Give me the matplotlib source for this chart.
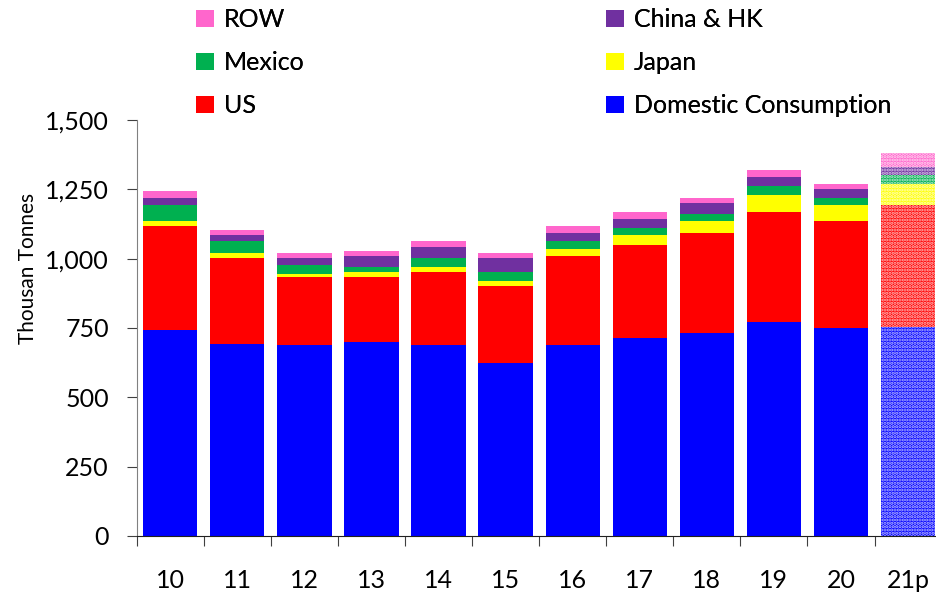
import numpy as np
import matplotlib
matplotlib.use("Agg")
import matplotlib.pyplot as plt
from matplotlib.patches import Patch

plt.rcParams['font.family'] = ['Lato', 'DejaVu Sans']
plt.rcParams['hatch.linewidth'] = 1.6

years = ['10', '11', '12', '13', '14', '15', '16', '17', '18', '19', '20', '21p']
domestic = [743, 692, 690, 700, 690, 625, 690, 714, 732, 772, 750, 755]
us = [375, 312, 245, 235, 262, 278, 320, 336, 362, 397, 387, 440]
japan = [18, 15, 10, 17, 17, 15, 25, 35, 42, 60, 58, 75]
mexico = [59, 44, 31, 17, 33, 34, 27, 27, 26, 33, 25, 33]
china = [24, 22, 27, 41, 40, 50, 31, 32, 40, 34, 32, 29]
row = [26, 17, 17, 18, 21, 17, 25, 25, 17, 25, 18, 50]

series = [('Domestic Consumption', domestic, '#0000FF'),
          ('US', us, '#FF0000'),
          ('Japan', japan, '#FFFF00'),
          ('Mexico', mexico, '#00B050'),
          ('China & HK', china, '#7030A0'),
          ('ROW', row, '#FF66CC')]

fig = plt.figure(figsize=(9.36, 5.92), dpi=100)
ax = fig.add_axes([0.146, 0.0946, 0.86, 0.7027])

x = np.arange(len(years))
bottom = np.zeros(len(years))
for name, vals, col in series:
    vals = np.array(vals, dtype=float)
    ax.bar(x[:-1], vals[:-1], width=0.81, bottom=bottom[:-1], color=col,
           edgecolor='none', linewidth=0)
    # forecast bar, patterned
    ax.bar(x[-1:], vals[-1:], width=0.81, bottom=bottom[-1:], color=col,
           edgecolor=(1, 1, 1, 0.75), linewidth=0, hatch='.....')
    bottom += vals

ax.set_xlim(-0.5, 11.5)
ax.set_ylim(0, 1500)
ax.set_yticks([0, 250, 500, 750, 1000, 1250, 1500])
ax.set_yticklabels(['0', '250', '500', '750', '1,000', '1,250', '1,500'])
ax.set_xticks(np.arange(-0.5, 11.5, 1.0))
ax.set_xticklabels([])
ax.set_xticks(x, minor=True)
ax.set_xticklabels(years, minor=True)
ax.tick_params(axis='x', which='minor', length=0, pad=24, labelsize=18)
ax.tick_params(axis='x', which='major', length=7, direction='out', color='#404040')
ax.tick_params(axis='y', length=7, direction='out', pad=13, labelsize=18, color='#404040')
for s in ['top', 'right']:
    ax.spines[s].set_visible(False)
ax.spines['left'].set_color('#808080')
ax.spines['bottom'].set_color('#202020')
ax.set_ylabel('Thousan Tonnes', fontsize=15)
ax.yaxis.set_label_coords(-0.122, 0.644)

col1 = [series[5], series[3], series[1]]
col2 = [series[4], series[2], series[0]]
for items, xpos in [(col1, 0.199), (col2, 0.637)]:
    handles = [Patch(facecolor=c, edgecolor='none') for _, _, c in items]
    labels = [n for n, _, _ in items]
    leg = fig.legend(handles, labels, loc='upper left', bbox_to_anchor=(xpos, 1.003),
                     frameon=False, fontsize=18, handlelength=0.7, handleheight=0.7,
                     handletextpad=0.4, labelspacing=0.8, borderaxespad=0)
    fig.add_artist(leg)

fig.savefig('out.png', dpi=100)
